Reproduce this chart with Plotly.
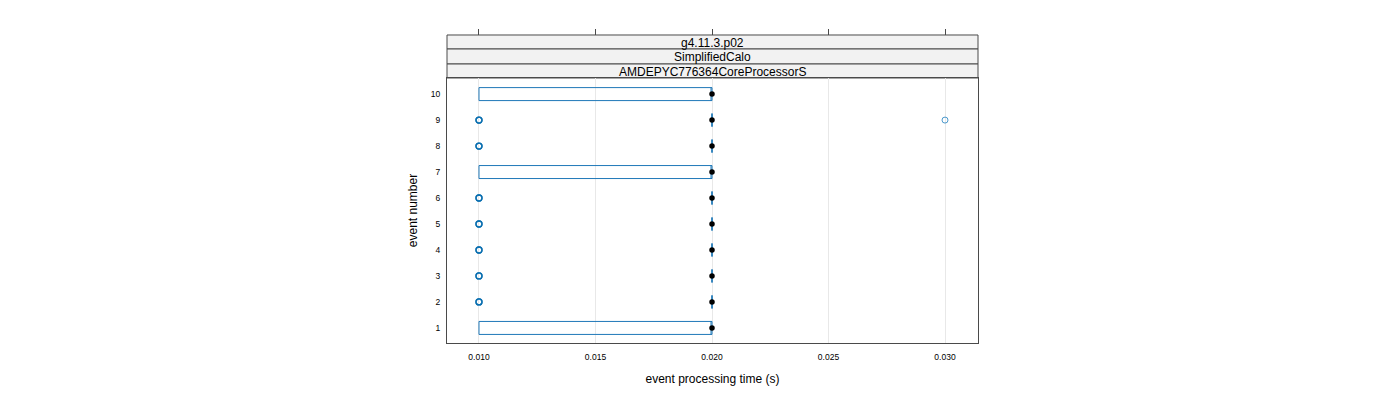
import plotly.graph_objects as go

# Per-event box statistics (seconds).
events = [1, 2, 3, 4, 5, 6, 7, 8, 9, 10]
q1 = [0.01, 0.02, 0.02, 0.02, 0.02, 0.02, 0.01, 0.02, 0.02, 0.01]
median = [0.02, 0.02, 0.02, 0.02, 0.02, 0.02, 0.02, 0.02, 0.02, 0.02]
q3 = [0.02, 0.02, 0.02, 0.02, 0.02, 0.02, 0.02, 0.02, 0.02, 0.02]
lower = [0.01, 0.02, 0.02, 0.02, 0.02, 0.02, 0.01, 0.02, 0.02, 0.01]
upper = [0.02, 0.02, 0.02, 0.02, 0.02, 0.02, 0.02, 0.02, 0.02, 0.02]

# Outliers (repeated values stack on top of each other).
out_event = [2, 2, 3, 3, 4, 4, 5, 5, 6, 6, 8, 8, 9, 9]
out_time = [0.01] * 14
out9_event = [9]
out9_time = [0.03]

strips = ["g4.11.3.p02", "SimplifiedCalo", "AMDEPYC776364CoreProcessorS"]
x_ticks = [0.010, 0.015, 0.020, 0.025, 0.030]

blue = "#1f78b8"
frame = "#4a4a4a"
font = "Liberation Sans"

fig = go.Figure()

fig.add_trace(go.Box(
    y=events, q1=q1, median=median, q3=q3,
    lowerfence=lower, upperfence=upper,
    orientation="h", width=0.5, whiskerwidth=0,
    fillcolor="rgba(0,0,0,0)",
    line=dict(color=blue, width=1),
    boxpoints=False, hoverinfo="skip",
))

fig.add_trace(go.Scatter(
    x=out_time, y=out_event, mode="markers",
    marker=dict(symbol="circle-open", size=6, color="#0a6fb0",
                line=dict(width=1.3)),
    hoverinfo="skip",
))
fig.add_trace(go.Scatter(
    x=out9_time, y=out9_event, mode="markers",
    marker=dict(symbol="circle-open", size=6, color="#4a98cc",
                line=dict(width=1)),
    hoverinfo="skip",
))

fig.add_trace(go.Scatter(
    x=median, y=events, mode="markers",
    marker=dict(symbol="circle", size=5.5, color="black"),
    hoverinfo="skip",
))

# invisible trace so the top tick axis gets drawn
fig.add_trace(go.Scatter(
    x=median, y=events, xaxis="x2", mode="markers",
    marker=dict(opacity=0), hoverinfo="skip",
))

# strips above the panel
edges = [0.9778, 0.9333, 0.8857, 0.8413]
for i, label in enumerate(strips):
    fig.add_shape(type="rect", xref="paper", yref="paper",
                  x0=0, x1=1, y0=edges[i + 1], y1=edges[i],
                  fillcolor="#f2f2f2", line=dict(color=frame, width=1),
                  layer="below")
    fig.add_annotation(text=label, xref="paper", yref="paper",
                       x=0.5, y=(edges[i] + edges[i + 1]) / 2 - 0.002,
                       xanchor="center", yanchor="middle",
                       showarrow=False, font=dict(size=12, color="black"))

fig.update_layout(
    width=1400, height=400,
    margin=dict(l=439, r=430, t=20, b=65),
    plot_bgcolor="white", paper_bgcolor="white",
    showlegend=False,
    font=dict(family=font, color="black"),
    xaxis=dict(
        range=[0.008627, 0.031416],
        tickvals=x_ticks, tickformat=".3f",
        tickfont=dict(size=8.5),
        ticks="outside", ticklen=6, tickcolor="rgba(0,0,0,0)",
        showgrid=True, gridcolor="#e8e8e8", gridwidth=1,
        showline=True, linecolor=frame, linewidth=1, mirror=True,
        zeroline=False,
        title=dict(text="event processing time (s)",
                   font=dict(size=12), standoff=13),
    ),
    xaxis2=dict(
        overlaying="x", matches="x", anchor="free", position=0.9778,
        side="top", tickvals=x_ticks, ticks="outside", ticklen=6,
        tickcolor=frame, showticklabels=False, showgrid=False,
        showline=False, zeroline=False,
    ),
    yaxis=dict(
        domain=[0, 0.8413],
        range=[0.42, 10.62],
        tickvals=events, tickfont=dict(size=8.5),
        ticks="outside", ticklen=4, tickcolor="rgba(0,0,0,0)",
        showgrid=False, zeroline=False,
        showline=True, linecolor=frame, linewidth=1, mirror=True,
        title=dict(text="event number", font=dict(size=12), standoff=10),
    ),
)

fig.write_html("out.html")
